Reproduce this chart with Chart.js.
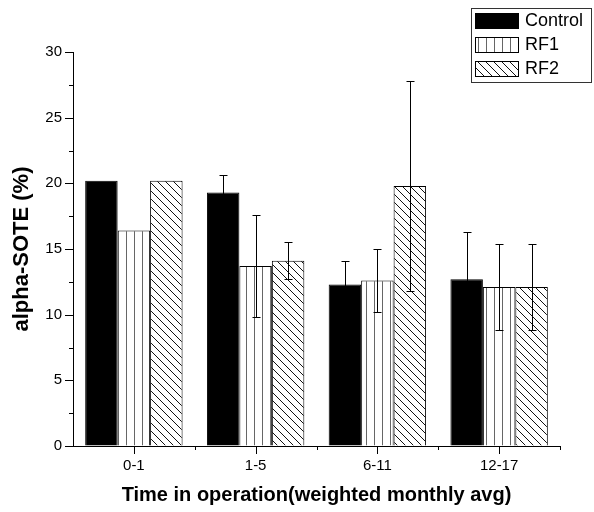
<!DOCTYPE html>
<html>
<head>
<meta charset="utf-8">
<script src="https://cdn.jsdelivr.net/npm/chart.js@4.4.1/dist/chart.umd.min.js"></script>
<style>
  html, body { margin: 0; padding: 0; background: #fff; }
  canvas { display: block; }
</style>
</head>
<body>
<canvas id="chart" width="594" height="512"></canvas>
<script>
const categories = ['0-1', '1-5', '6-11', '12-17'];
const seriesNames = ['Control', 'RF1', 'RF2'];
const controlValues = [20.2, 19.3, 12.3, 12.7];
const rf1Values = [16.4, 13.7, 12.6, 12.1];
const rf2Values = [20.2, 14.1, 19.8, 12.1];
const controlErrors = [0, 1.3, 1.8, 3.6];
const rf1Errors = [0, 3.9, 2.4, 3.3];
const rf2Errors = [0, 1.4, 8.0, 3.3];
const yMin = 0;
const yMax = 30;
const yStep = 5;
const yMinorStep = 2.5;

const FONT = '"Liberation Sans", Arial, sans-serif';

// hatch patterns like the origin-style fills
function makePattern(kind) {
    const c = document.createElement('canvas');
    c.width = 8;
    c.height = 8;
    const g = c.getContext('2d');
    g.fillStyle = '#fff';
    g.fillRect(0, 0, 8, 8);
    g.lineWidth = 1;
    if (kind === 'vertical') {
        g.strokeStyle = '#666';
        g.beginPath();
        g.moveTo(6.5, 0);
        g.lineTo(6.5, 8);
        g.stroke();
    } else {
        g.strokeStyle = '#111';
        g.beginPath();
        g.moveTo(-1, -1);
        g.lineTo(9, 9);
        g.moveTo(-5, 3);
        g.lineTo(1, 9);
        g.moveTo(3, -5);
        g.lineTo(9, 1);
        g.stroke();
    }
    return g.createPattern(c, 'repeat');
}

const ctx = document.getElementById('chart').getContext('2d');
const fills = ['#000', makePattern('vertical'), makePattern('diagonal')];
const errors = [controlErrors, rf1Errors, rf2Errors];

const errorBars = {
    id: 'errorBars',
    afterDatasetsDraw(chart) {
        const g = chart.ctx;
        const y = chart.scales.y;
        g.save();
        g.strokeStyle = '#000';
        g.lineWidth = 1;
        chart.data.datasets.forEach((ds, di) => {
            const meta = chart.getDatasetMeta(di);
            meta.data.forEach((bar, i) => {
                const e = errors[di][i];
                if (!e) return;
                const x = Math.round(bar.x) + 0.5;
                const top = Math.round(y.getPixelForValue(ds.data[i] + e)) + 0.5;
                const bot = Math.round(y.getPixelForValue(ds.data[i] - e)) + 0.5;
                g.beginPath();
                g.moveTo(x, top);
                g.lineTo(x, bot);
                g.moveTo(x - 4, top);
                g.lineTo(x + 4, top);
                g.moveTo(x - 4, bot);
                g.lineTo(x + 4, bot);
                g.stroke();
            });
        });
        g.restore();
    }
};

const axisTicks = {
    id: 'axisTicks',
    afterDraw(chart) {
        const g = chart.ctx;
        const x = chart.scales.x;
        const y = chart.scales.y;
        const area = chart.chartArea;
        g.save();
        g.strokeStyle = '#000';
        g.lineWidth = 1;
        g.beginPath();
        for (let v = yMin; v <= yMax + 0.001; v += yMinorStep) {
            const py = Math.round(y.getPixelForValue(v)) + 0.5;
            const len = (v % yStep === 0) ? 8 : 4;
            g.moveTo(area.left - len, py);
            g.lineTo(area.left, py);
        }
        categories.forEach((c, i) => {
            const px = Math.round(x.getPixelForValue(i)) + 0.5;
            g.moveTo(px, area.bottom);
            g.lineTo(px, area.bottom + 8);
        });
        const w = (area.right - area.left) / categories.length;
        for (let i = 1; i <= categories.length; i++) {
            const px = Math.round(area.left + w * i) + 0.5;
            g.moveTo(px, area.bottom);
            g.lineTo(px, area.bottom + 4);
        }
        g.stroke();
        g.restore();
    }
};

const boxLegend = {
    id: 'boxLegend',
    afterDraw(chart) {
        const g = chart.ctx;
        g.save();
        g.strokeStyle = '#333';
        g.lineWidth = 1;
        g.strokeRect(471.5, 8.5, 120, 74);
        g.font = '18px ' + FONT;
        g.textBaseline = 'middle';
        chart.data.datasets.forEach((ds, i) => {
            const top = 13 + i * 24;
            g.fillStyle = ds.backgroundColor;
            g.fillRect(475, top, 44, 16);
            g.strokeStyle = '#000';
            g.strokeRect(475.5, top + 0.5, 43, 15);
            g.fillStyle = '#000';
            g.fillText(ds.label, 525, top + 8.5);
        });
        g.restore();
    }
};

new Chart(ctx, {
    type: 'bar',
    data: {
        labels: categories,
        datasets: [
            { label: seriesNames[0], data: controlValues, backgroundColor: fills[0], borderColor: '#000', borderWidth: 1 },
            { label: seriesNames[1], data: rf1Values, backgroundColor: fills[1], borderColor: '#000', borderWidth: 1 },
            { label: seriesNames[2], data: rf2Values, backgroundColor: fills[2], borderColor: '#000', borderWidth: 1 }
        ]
    },
    options: {
        responsive: false,
        animation: false,
        layout: { padding: { top: 52, right: 34, left: 0, bottom: 0 } },
        datasets: {
            bar: { categoryPercentage: 0.8, barPercentage: 1 }
        },
        plugins: {
            legend: { display: false },
            tooltip: { enabled: false }
        },
        scales: {
            x: {
                grid: { display: true, drawOnChartArea: false, drawTicks: false },
                border: { display: true, color: '#000', width: 1 },
                ticks: {
                    color: '#000',
                    padding: 11,
                    font: { family: FONT, size: 15 }
                },
                title: {
                    display: true,
                    text: 'Time in operation(weighted monthly avg)',
                    color: '#000',
                    padding: { top: 0, bottom: 5 },
                    font: { family: FONT, size: 20, weight: 'bold' }
                },
                afterFit(s) { s.height = 66; }
            },
            y: {
                min: yMin,
                max: yMax,
                grid: { display: true, drawOnChartArea: false, drawTicks: false },
                border: { display: true, color: '#000', width: 1 },
                ticks: {
                    stepSize: yStep,
                    color: '#000',
                    padding: 11,
                    font: { family: FONT, size: 15 }
                },
                title: {
                    display: true,
                    text: 'alpha-SOTE (%)',
                    color: '#000',
                    padding: { top: 9, bottom: 0 },
                    font: { family: FONT, size: 22, weight: 'bold' }
                },
                afterFit(s) { s.width = 73; }
            }
        }
    },
    plugins: [errorBars, axisTicks, boxLegend]
});
</script>
</body>
</html>
